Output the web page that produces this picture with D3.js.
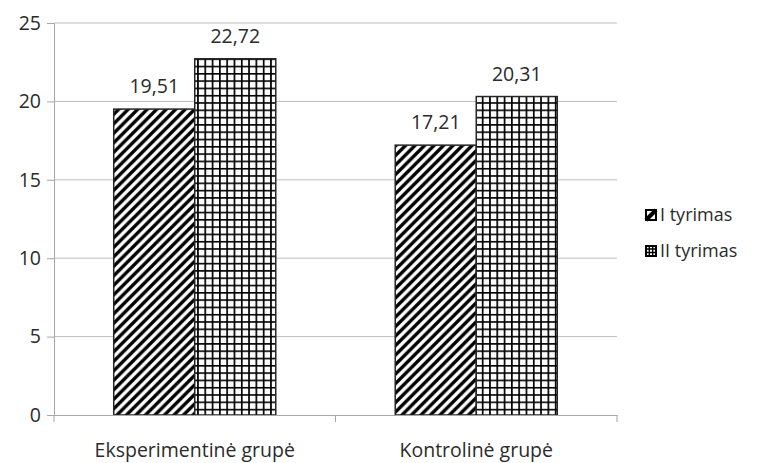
<!DOCTYPE html>
<html><head><meta charset="utf-8">
<script src="https://cdn.jsdelivr.net/npm/d3@7"></script>
<style>body{margin:0;background:#fff}svg{display:block}text{font-family:"Open Sans","Liberation Sans",sans-serif;fill:#2b2b2b}</style>
</head><body>
<script>
const categories = ["Eksperimentinė grupė", "Kontrolinė grupė"];
const seriesNames = ["I tyrimas", "II tyrimas"];
const seriesI = [19.51, 17.21];
const seriesII = [22.72, 20.31];
const yTicks = [0, 5, 10, 15, 20, 25];

const W = 760, H = 463;
const m = {left: 54, right: 617, top: 23, bottom: 415};
const FS = 19.5;
const svg = d3.select("body").append("svg").attr("width", W).attr("height", H);
const defs = svg.append("defs");
const P = 9.5;
const diag = defs.append("pattern").attr("id", "diag").attr("patternUnits", "userSpaceOnUse")
  .attr("width", P).attr("height", P);
diag.append("rect").attr("width", P).attr("height", P).attr("fill", "#fff");
diag.append("path").attr("d", `M-2,2 L2,-2 M0,${P} L${P},0 M${P-2},${P+2} L${P+2},${P-2}`)
  .attr("stroke", "#000").attr("stroke-width", 3.4);
const G = 7.3;
const grid = defs.append("pattern").attr("id", "grid").attr("patternUnits", "userSpaceOnUse")
  .attr("width", G).attr("height", G);
grid.append("rect").attr("width", G).attr("height", G).attr("fill", "#fff");
grid.append("path").attr("d", `M0.8,0 V${G} M0,0.8 H${G}`).attr("stroke", "#000").attr("stroke-width", 1.8);

const y = d3.scaleLinear().domain([0, 25]).range([m.bottom, m.top]);
const x0 = d3.scaleBand().domain(categories).range([m.left, m.right]).paddingInner(0).paddingOuter(0);
const x1 = d3.scaleBand().domain(seriesNames).range([0, x0.bandwidth()]).paddingOuter(0.737).paddingInner(0);

// gridlines
svg.append("g").selectAll("line").data(yTicks.filter(d => d > 0)).join("line")
  .attr("x1", m.left).attr("x2", m.right).attr("y1", d => y(d)).attr("y2", d => y(d))
  .attr("stroke", "#bfbfbf").attr("stroke-width", 1);

// y axis
const ya = svg.append("g").attr("transform", `translate(${m.left},0)`)
  .call(d3.axisLeft(y).tickValues(yTicks).tickSize(7).tickPadding(6).tickFormat(d3.format("d")));
ya.select(".domain").attr("stroke", "#a6a6a6");
ya.selectAll(".tick line").attr("stroke", "#a6a6a6");
ya.selectAll("text").attr("font-size", FS).style("fill", "#2b2b2b");

// bars
const data = categories.map((c, i) => ({c, vals: [seriesI[i], seriesII[i]]}));
const fills = ["url(#diag)", "url(#grid)"];
const g = svg.append("g");
data.forEach(d => {
  d.vals.forEach((v, j) => {
    const xx = x0(d.c) + x1(seriesNames[j]);
    g.append("rect").attr("x", xx).attr("y", y(v)).attr("width", x1.bandwidth()).attr("height", y(0) - y(v))
      .attr("fill", fills[j]).attr("stroke", "#262626").attr("stroke-width", 1.5);
    g.append("text").attr("x", xx + x1.bandwidth() / 2).attr("y", y(v) - 16)
      .attr("text-anchor", "middle").attr("font-size", FS).text(d3.format(".2f")(v).replace(".", ","));
  });
});

// x axis
const xa = svg.append("g").attr("transform", `translate(0,${m.bottom})`)
  .call(d3.axisBottom(x0).tickSize(0).tickPadding(28));
xa.select(".domain").attr("stroke", "#a6a6a6");
xa.selectAll("text").attr("font-size", FS).style("fill", "#2b2b2b");
// category dividers
svg.append("g").selectAll("line").data([m.left, ...categories.map(c => x0(c) + x0.bandwidth())]).join("line")
  .attr("x1", d => d).attr("x2", d => d).attr("y1", m.bottom).attr("y2", m.bottom + 7)
  .attr("stroke", "#a6a6a6");

// legend
const lg = svg.append("g").attr("transform", "translate(645,209)");
seriesNames.forEach((s, i) => {
  const row = lg.append("g").attr("transform", `translate(0,${i * 36})`);
  row.append("rect").attr("x", 1).attr("y", 1).attr("width", 10).attr("height", 10)
    .attr("fill", "#fff").attr("stroke", "#000").attr("stroke-width", 2);
  if (i === 0) {
    row.append("path").attr("d", "M1,11 L11,1").attr("stroke", "#000").attr("stroke-width", 4);
  } else {
    row.append("path").attr("d", "M1,4 H11 M4.3,1 V11 M7.7,1 V11 M1,7.5 H11")
      .attr("stroke", "#000").attr("stroke-width", 1.4);
  }
  row.append("text").attr("x", 15).attr("y", 6).attr("dy", "0.35em").attr("font-size", 18).text(s);
});
</script>
</body></html>
